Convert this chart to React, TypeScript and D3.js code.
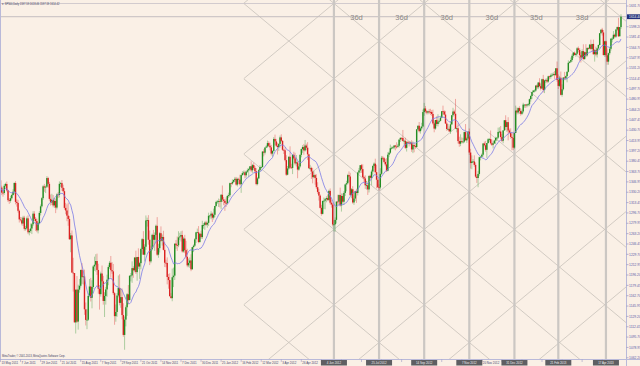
import React, { useEffect, useRef } from "react";
import * as d3 from "d3";

// S&P 500 daily, 13 May 2011 .. 3 May 2013
const closes2011 = [
  1337.8, 1329.5, 1329.0, 1340.7, 1343.6, 1333.3, 1317.4, 1316.3, 1320.5, 1325.7, 1331.1, 1345.2,
  1314.6, 1312.9, 1300.2, 1286.2, 1284.9, 1279.6, 1289.0, 1271.0, 1271.8, 1287.9, 1265.4, 1267.6, 1271.5, 1278.4, 1295.5, 1287.1, 1283.5, 1268.5, 1280.1, 1296.7, 1307.4, 1320.6,
  1339.7, 1337.9, 1339.2, 1353.2, 1343.8, 1319.5, 1313.6, 1317.7, 1308.9, 1316.1, 1305.4, 1326.7, 1325.8, 1343.8, 1345.0, 1337.4, 1331.9, 1304.9, 1300.7, 1292.3,
  1286.9, 1254.1, 1260.3, 1200.1, 1199.4, 1119.5, 1172.5, 1120.8, 1172.6, 1178.8, 1204.5, 1192.8, 1193.9, 1140.7, 1123.5, 1123.8, 1162.4, 1177.6, 1159.3, 1176.8, 1210.1, 1212.9, 1218.9,
  1204.4, 1174.0, 1165.2, 1198.6, 1185.9, 1154.2, 1162.3, 1172.9, 1188.7, 1209.1, 1216.0, 1204.1, 1202.1, 1166.8, 1129.6, 1136.4, 1163.0, 1175.4, 1151.1, 1160.4, 1131.4,
  1099.2, 1124.0, 1144.0, 1165.0, 1155.5, 1194.9, 1195.5, 1207.3, 1203.7, 1224.6, 1200.9, 1225.4, 1209.9, 1215.4, 1238.3, 1254.2, 1229.1, 1242.0, 1284.6, 1285.1, 1253.3,
  1218.3, 1237.9, 1261.2, 1253.2, 1261.1, 1275.9, 1229.1, 1239.7, 1263.9, 1251.8, 1257.8, 1236.9, 1216.1, 1215.7, 1193.0, 1188.0, 1161.8, 1158.7, 1192.6, 1195.2, 1247.0,
  1244.6, 1244.3, 1257.1, 1258.5, 1261.0, 1234.4, 1255.2, 1236.5, 1225.7, 1211.8, 1215.8, 1219.7, 1205.4, 1241.3, 1243.7, 1254.0, 1265.3, 1265.4, 1249.6, 1263.0, 1257.6,
];
const closes2012 = [
  1277.1, 1277.3, 1281.1, 1277.8, 1280.7, 1292.1, 1292.5, 1295.5, 1289.1, 1293.7, 1308.0, 1314.5, 1315.4, 1316.0, 1314.7, 1326.1, 1318.4, 1316.3, 1313.0, 1312.4,
  1324.1, 1325.5, 1344.9, 1344.3, 1347.1, 1350.0, 1352.0, 1342.6, 1351.8, 1350.5, 1343.2, 1358.0, 1361.2, 1362.2, 1357.7, 1363.5, 1365.7, 1367.6, 1372.2, 1365.7,
  1374.1, 1369.6, 1364.3, 1343.4, 1352.6, 1365.9, 1370.9, 1371.1, 1396.0, 1394.3, 1402.6, 1404.2, 1409.8, 1405.5, 1402.9, 1392.8, 1397.1, 1416.5, 1412.5, 1405.5, 1403.3, 1408.5,
  1419.0, 1413.4, 1399.0, 1398.1, 1382.2, 1358.6, 1368.7, 1387.6, 1370.3, 1369.6, 1390.8, 1385.1, 1376.9, 1378.5, 1366.9, 1372.0, 1390.7, 1400.0, 1403.4, 1397.9,
  1405.8, 1402.3, 1391.6, 1369.1, 1369.6, 1363.7, 1354.6, 1358.0, 1353.4, 1338.4, 1330.7, 1324.8, 1304.9, 1295.2, 1316.0, 1316.6, 1318.9, 1320.7, 1317.8, 1332.4, 1313.3, 1310.3,
  1278.0, 1278.2, 1285.5, 1315.1, 1315.0, 1325.7, 1308.9, 1324.2, 1314.9, 1329.1, 1342.8, 1344.8, 1358.0, 1355.7, 1325.5, 1335.0, 1313.7, 1320.0, 1331.9, 1329.0, 1362.2,
  1365.5, 1374.0, 1367.6, 1354.7, 1352.5, 1341.5, 1341.5, 1334.8, 1356.8, 1353.6, 1363.7, 1372.8, 1376.5, 1362.7, 1350.5, 1338.3, 1337.9, 1360.0, 1386.0, 1385.3, 1379.3,
  1375.3, 1365.0, 1391.0, 1394.2, 1401.4, 1402.2, 1402.8, 1405.9, 1404.1, 1403.9, 1405.5, 1415.5, 1418.2, 1418.1, 1413.2, 1413.5, 1402.1, 1411.1, 1410.4, 1409.3, 1410.5, 1399.5, 1406.6,
  1404.9, 1403.4, 1432.1, 1437.9, 1429.1, 1433.6, 1436.6, 1460.0, 1465.8, 1461.2, 1459.3, 1461.1, 1460.3, 1460.2, 1456.9, 1441.6, 1433.3, 1447.2, 1440.7,
  1444.5, 1445.8, 1451.0, 1461.4, 1460.9, 1455.9, 1441.5, 1432.6, 1432.8, 1428.6, 1440.1, 1454.9, 1460.9, 1457.3, 1433.2, 1433.8, 1413.1, 1408.8, 1413.0, 1411.9, 1412.2,
  1427.6, 1414.2, 1417.3, 1428.4, 1394.5, 1377.5, 1379.9, 1380.0, 1374.5, 1355.5, 1353.3, 1359.9, 1386.9, 1387.8, 1391.0, 1409.2, 1406.3, 1398.9, 1409.9, 1416.0, 1416.2,
  1409.5, 1407.1, 1409.3, 1413.9, 1418.1, 1418.6, 1427.8, 1428.5, 1419.5, 1413.6, 1430.4, 1446.8, 1435.8, 1443.7, 1430.2, 1426.7, 1419.8, 1418.1, 1402.4, 1426.2,
];
const closes2013 = [
  1462.4, 1459.4, 1466.5, 1461.9, 1457.2, 1461.0, 1472.1, 1472.1, 1470.7, 1472.3, 1472.6, 1480.9, 1486.0, 1492.6, 1494.8, 1494.8, 1503.0, 1500.2, 1507.8, 1502.0, 1498.1,
  1513.2, 1495.7, 1511.3, 1512.1, 1509.4, 1517.9, 1517.0, 1519.4, 1520.3, 1521.4, 1519.8, 1530.9, 1512.0, 1502.4, 1515.6, 1487.9, 1496.9, 1516.0, 1514.7,
  1518.2, 1525.2, 1539.8, 1541.5, 1544.3, 1551.2, 1556.2, 1552.5, 1554.5, 1563.2, 1560.7, 1552.1, 1548.3, 1558.7, 1545.8, 1556.9, 1551.7, 1563.8, 1562.9, 1569.2,
  1562.2, 1570.3, 1553.7, 1560.0, 1553.3, 1563.1, 1568.6, 1587.7, 1593.4, 1588.9, 1552.4, 1574.6, 1552.0, 1541.6, 1555.3, 1562.5, 1578.8, 1578.8, 1585.2, 1582.2, 1593.6, 1597.6,
  1582.7, 1597.6, 1614.4,
];
const firstOpen = 1349.5;

// shadow lengths above / below the body, in index points
const wickUp2011 = [
  2, 3, 4, 3, 2, 4, 1, 3, 4, 2, 4, 1,
  3, 4, 5, 2, 4, 5, 3, 3, 4, 3, 5, 3, 8, 2, 4, 4, 3, 4, 2, 3, 3, 2,
  2, 4, 2, 3, 2, 3, 7, 10, 8, 5, 4, 2, 4, 4, 2, 5, 5, 5, 8, 10,
  21, 5, 4, 8, 24, 0, 0, 22, 8, 11, 0, 11, 10, 11, 11, 17, 4, 12, 14, 11, 2, 13, 11,
  12, 10, 6, 3, 13, 9, 6, 4, 8, 3, 3, 11, 13, 12, 2, 12, 4, 20, 22, 14, 14,
  19, 5, 3, 2, 15, 1, 4, 11, 3, 0, 11, 0, 14, 2, 2, 2, 13, 4, 8, 4, 8,
  15, 6, 2, 8, 4, 2, 14, 7, 2, 11, 4, 10, 12, 5, 9, 5, 11, 5, 14, 13, 0,
  6, 14, 10, 6, 6, 7, 3, 6, 15, 13, 7, 5, 10, 0, 2, 2, 1, 6, 10, 1, 5,
];
const wickDown2011 = [
  2, 4, 6, 3, 3, 2, 3, 5, 3, 2, 1, 4,
  4, 6, 3, 5, 2, 3, 4, 3, 3, 2, 3, 5, 3, 9, 3, 4, 16, 3, 5, 2, 4, 2,
  3, 7, 9, 2, 6, 3, 5, 4, 3, 4, 9, 3, 5, 4, 5, 5, 2, 3, 6, 9,
  11, 1, 21, 0, 30, 0, 18, 2, 13, 5, 3, 11, 12, 9, 9, 15, 2, 2, 6, 17, 3, 7, 11,
  8, 8, 25, 4, 6, 6, 26, 14, 12, 9, 3, 12, 4, 3, 14, 9, 8, 3, 4, 8, 7,
  3, 24, 11, 14, 7, 0, 9, 12, 12, 3, 3, 14, 4, 20, 10, 9, 0, 11, 5, 10, 8,
  6, 3, 2, 13, 18, 11, 2, 5, 7, 2, 8, 1, 7, 7, 12, 14, 0, 0, 5, 16, 7,
  6, 9, 3, 4, 8, 2, 2, 5, 3, 3, 3, 8, 3, 0, 8, 2, 6, 0, 2, 1, 3,
];
const wickUp2012 = [
  7, 3, 2, 3, 2, 5, 1, 4, 2, 10, 0, 2, 2, 4, 3, 1, 15, 4, 3, 9,
  2, 4, 1, 0, 4, 1, 3, 3, 2, 2, 8, 1, 3, 3, 3, 1, 3, 2, 0, 8,
  2, 4, 3, 5, 2, 2, 3, 1, 1, 4, 0, 2, 4, 3, 5, 4, 1, 3, 7, 4, 5, 1,
  3, 5, 1, 1, 5, 8, 4, 1, 17, 6, 1, 5, 9, 12, 2, 4, 1, 1, 3, 5,
  9, 3, 9, 1, 5, 2, 6, 7, 2, 6, 8, 5, 2, 5, 1, 5, 2, 3, 6, 2, 4, 5,
  3, 7, 4, 0, 11, 1, 12, 4, 4, 3, 1, 4, 2, 6, 6, 2, 5, 5, 1, 4, 1,
  4, 0, 2, 8, 2, 5, 7, 4, 0, 2, 3, 1, 2, 8, 12, 3, 5, 9, 3, 3, 2,
  5, 10, 4, 2, 6, 2, 2, 0, 1, 7, 3, 0, 1, 1, 13, 2, 5, 2, 2, 3, 2, 4, 6,
  4, 3, 0, 0, 6, 3, 6, 4, 9, 4, 2, 1, 4, 5, 3, 7, 3, 0, 6,
  12, 2, 3, 0, 9, 2, 6, 3, 8, 4, 5, 0, 6, 3, 24, 1, 8, 7, 11, 6, 6,
  1, 13, 2, 0, 5, 6, 10, 4, 10, 4, 3, 5, 1, 1, 2, 0, 3, 7, 0, 2, 2,
  14, 6, 3, 1, 2, 1, 7, 7, 9, 5, 0, 0, 8, 0, 8, 3, 7, 5, 10, 0,
];
const wickDown2012 = [
  3, 6, 8, 2, 5, 5, 4, 6, 7, 3, 4, 2, 3, 9, 9, 12, 4, 7, 13, 6,
  2, 3, 3, 6, 2, 2, 3, 2, 3, 7, 2, 14, 1, 3, 5, 4, 2, 11, 2, 3,
  4, 3, 4, 2, 2, 1, 2, 2, 1, 6, 3, 1, 2, 2, 5, 3, 5, 1, 6, 2, 12, 6,
  6, 2, 2, 6, 2, 2, 1, 2, 2, 1, 10, 2, 3, 5, 14, 2, 2, 4, 6, 7,
  2, 4, 9, 1, 3, 12, 10, 2, 11, 3, 3, 8, 1, 3, 1, 13, 14, 5, 2, 2, 3, 5,
  3, 11, 12, 6, 6, 6, 2, 10, 3, 5, 5, 11, 2, 9, 1, 5, 2, 4, 4, 16, 4,
  3, 4, 6, 2, 6, 6, 7, 9, 5, 3, 12, 5, 3, 2, 14, 1, 5, 3, 2, 3, 2,
  3, 2, 1, 4, 2, 2, 1, 3, 6, 3, 1, 3, 4, 4, 1, 6, 2, 6, 1, 5, 2, 4, 6,
  10, 3, 1, 1, 2, 4, 3, 0, 6, 3, 3, 3, 3, 5, 3, 2, 6, 2, 3,
  4, 3, 1, 1, 5, 1, 1, 3, 2, 0, 4, 1, 3, 3, 0, 6, 4, 5, 4, 2, 3,
  2, 0, 4, 1, 4, 9, 10, 1, 3, 2, 8, 15, 3, 5, 1, 3, 2, 3, 13, 1, 4,
  2, 2, 6, 1, 6, 5, 2, 2, 4, 2, 4, 1, 5, 8, 16, 1, 3, 20, 4, 2,
];
const wickUp2013 = [
  8, 5, 1, 3, 4, 3, 3, 0, 1, 1, 2, 1, 2, 0, 1, 2, 0, 2, 1, 7, 4,
  1, 7, 1, 2, 3, 1, 1, 3, 3, 3, 5, 0, 11, 9, 3, 10, 8, 0, 9,
  1, 1, 4, 1, 4, 3, 1, 2, 1, 2, 3, 3, 5, 3, 11, 1, 13, 1, 1, 1,
  8, 0, 7, 2, 6, 1, 1, 0, 0, 3, 4, 1, 1, 11, 1, 3, 1, 3, 6, 2, 1, 1,
  15, 0, 4,
];
const wickDown2013 = [
  0, 3, 3, 5, 3, 2, 3, 5, 4, 3, 3, 3, 4, 5, 2, 3, 2, 3, 3, 2, 3,
  0, 4, 5, 4, 3, 2, 4, 3, 2, 2, 6, 1, 3, 5, 2, 1, 3, 2, 3,
  3, 10, 1, 1, 2, 3, 4, 1, 3, 2, 4, 9, 8, 1, 1, 1, 3, 2, 2, 1,
  2, 3, 1, 12, 3, 5, 2, 1, 1, 5, 1, 3, 3, 5, 5, 3, 3, 6, 1, 2, 2, 2,
  1, 0, 3,
];

const priceTicks = [
  1631.70, 1614.95, 1598.20, 1581.45, 1564.70, 1547.95, 1531.20, 1514.45, 1497.70, 1480.95,
  1464.20, 1447.45, 1430.70, 1413.95, 1397.20, 1380.45, 1363.70, 1346.95, 1330.20, 1313.45,
  1296.70, 1279.95, 1263.20, 1246.45, 1229.70, 1212.95, 1196.20, 1179.45, 1162.70, 1145.95,
  1129.20, 1112.45, 1095.70, 1078.95, 1062.20,
];
const dateTickBars = [0, 16, 32, 48, 64, 80, 96, 112, 128, 144, 160, 176, 192, 208, 224, 240, 256, 272, 288, 304, 320, 336, 352, 368, 384, 400, 416, 432, 448, 464, 480];
const dateTickLabels = [
  "13 May 2011", "7 Jun 2011", "29 Jun 2011", "21 Jul 2011", "15 Aug 2011", "7 Sep 2011", "29 Sep 2011", "21 Oct 2011",
  "14 Nov 2011", "7 Dec 2011", "30 Dec 2011", "25 Jan 2012", "16 Feb 2012", "12 Mar 2012", "3 Apr 2012", "26 Apr 2012",
  "18 May 2012", "12 Jun 2012", "5 Jul 2012", "27 Jul 2012", "20 Aug 2012", "12 Sep 2012", "4 Oct 2012", "26 Oct 2012",
  "20 Nov 2012", "14 Dec 2012", "9 Jan 2013", "1 Feb 2013", "26 Feb 2013", "20 Mar 2013", "12 Apr 2013",
];

// cycle lines
const cycleBars = [266, 302, 338, 374, 410, 445, 483];
const cycleDates = ["4 Jun 2012", "25 Jul 2012", "14 Sep 2012", "7 Nov 2012", "31 Dec 2012", "21 Feb 2013", "17 Apr 2013"];
const cycleLabels = ["36d", "36d", "36d", "36d", "35d", "38d"];

// gann grid: anchor bar/price, half cell in bars and points, first bar drawn
const gannAnchor = [266, 1270];
const gannCell = [36, 61];
const gannStartBar = 194;

const maPeriod = 14;
const title = "SP500,Daily  1597.59 1618.46 1597.59 1614.42";
const copyright = "MetaTrader, \u00a9 2001-2013, MetaQuotes Software Corp.";

export default function App() {
  const ref = useRef<SVGSVGElement>(null);

  useEffect(() => {
    const W = 640, H = 366;
    const plotR = 626.5, plotB = 359.5;
    const closes = [...closes2011, ...closes2012, ...closes2013];
    const ups = [...wickUp2011, ...wickUp2012, ...wickUp2013];
    const downs = [...wickDown2011, ...wickDown2012, ...wickDown2013];
    const n = closes.length;
    const bars = closes.map((c, i) => {
      const o = i === 0 ? firstOpen : closes[i - 1];
      return {
        i, o, c,
        h: Math.max(o, c) + (ups[i] ?? 2),
        l: Math.min(o, c) - (downs[i] ?? 2),
      };
    });

    const svg = d3.select(ref.current);
    svg.selectAll("*").remove();

    const x = d3.scaleLinear().domain([0, 495]).range([0.5, 0.5 + 495 * 1.2535]);
    const y = d3.scaleLinear().domain([1066.7, 1636.6]).range([355, 3]);
    const font = "Liberation Sans, Arial, sans-serif";

    svg.append("rect").attr("width", W).attr("height", H).attr("fill", "#FAF0E6");

    const defs = svg.append("defs");
    defs.append("clipPath").attr("id", "gann")
      .append("rect").attr("x", x(gannStartBar)).attr("y", 0)
      .attr("width", plotR - x(gannStartBar)).attr("height", plotB);
    defs.append("clipPath").attr("id", "plot")
      .append("rect").attr("x", 0).attr("y", 0).attr("width", plotR).attr("height", plotB);

    // gann grid
    const slope = gannCell[1] / gannCell[0];
    const g = svg.append("g").attr("clip-path", "url(#gann)")
      .attr("stroke", "#C8C1BA").attr("stroke-width", 0.8).attr("fill", "none");
    const b0 = gannStartBar, b1 = n + 20;
    d3.range(-14, 15).forEach((k) => {
      [1, -1].forEach((dir) => {
        const p = (b: number) => gannAnchor[1] + dir * slope * (b - gannAnchor[0]) + 2 * gannCell[1] * k;
        g.append("line")
          .attr("x1", x(b0)).attr("y1", y(p(b0)))
          .attr("x2", x(b1)).attr("y2", y(p(b1)));
      });
    });

    // top line and bid line
    const last = closes[n - 1];
    svg.append("line").attr("x1", 0).attr("x2", plotR).attr("y1", 3.5).attr("y2", 3.5)
      .attr("stroke", "#C8C2C8").attr("stroke-width", 0.8);
    svg.append("line").attr("x1", 0).attr("x2", plotR).attr("y1", y(last)).attr("y2", y(last))
      .attr("stroke", "#BDB8BC").attr("stroke-width", 0.9);

    // cycle lines
    svg.append("g").selectAll("line").data(cycleBars).join("line")
      .attr("x1", (d) => x(d)).attr("x2", (d) => x(d))
      .attr("y1", 0).attr("y2", plotB)
      .attr("stroke", "#CBC7C3").attr("stroke-width", 2.2);
    svg.append("g").selectAll("text").data(cycleLabels).join("text")
      .attr("x", (_, i) => (x(cycleBars[i]) + x(cycleBars[i + 1])) / 2)
      .attr("y", 19.5)
      .attr("text-anchor", "middle")
      .attr("font-family", font)
      .attr("font-size", 7.5).attr("fill", "#8C8886")
      .text((d) => d);

    // candles
    const up = "#238C23", down = "#DA2020";
    const cg = svg.append("g").attr("clip-path", "url(#plot)");
    cg.selectAll("line.wick").data(bars).join("line").attr("class", "wick")
      .attr("x1", (d) => x(d.i)).attr("x2", (d) => x(d.i))
      .attr("y1", (d) => y(d.h)).attr("y2", (d) => y(d.l))
      .attr("stroke", (d) => (d.c >= d.o ? up : down))
      .attr("stroke-opacity", 0.45).attr("stroke-width", 0.8);
    cg.selectAll("rect.body").data(bars).join("rect").attr("class", "body")
      .attr("x", (d) => x(d.i) - 0.7).attr("width", 1.4)
      .attr("y", (d) => y(Math.max(d.o, d.c)))
      .attr("height", (d) => Math.max(0.8, Math.abs(y(d.o) - y(d.c))))
      .attr("fill", (d) => (d.c >= d.o ? up : down));

    // moving average
    const ma = closes.map((_, i) => d3.mean(closes.slice(Math.max(0, i - maPeriod + 1), i + 1)) as number);
    cg.append("path").datum(ma)
      .attr("d", d3.line<number>().x((_, i) => x(i)).y((d) => y(d)))
      .attr("fill", "none").attr("stroke", "#7B7BE6").attr("stroke-width", 0.8);

    // frame
    const frame = "#B9B9D9";
    svg.append("line").attr("x1", 0.5).attr("x2", 0.5).attr("y1", 0).attr("y2", plotB).attr("stroke", frame);
    svg.append("line").attr("x1", plotR).attr("x2", plotR).attr("y1", 0).attr("y2", H).attr("stroke", frame);
    svg.append("line").attr("x1", 0).attr("x2", W).attr("y1", plotB).attr("y2", plotB).attr("stroke", frame);

    // price axis
    const pa = svg.append("g").attr("font-family", font).attr("font-size", 3.3).attr("fill", "#5A5AA8");
    priceTicks.forEach((p) => {
      pa.append("line").attr("x1", plotR).attr("x2", plotR + 2).attr("y1", y(p)).attr("y2", y(p))
        .attr("stroke", "#8A8AC0").attr("stroke-width", 0.6);
      if (Math.abs(y(p) - y(last)) > 4) {
        pa.append("text").attr("x", plotR + 2.6).attr("y", y(p) + 1.2).text(p.toFixed(2));
      }
    });
    pa.append("rect").attr("x", plotR + 0.5).attr("y", y(last) - 2.4).attr("width", 14).attr("height", 4.8)
      .attr("fill", "#24307A");
    pa.append("text").attr("x", plotR + 2.6).attr("y", y(last) + 1.2).attr("fill", "#FFFFFF").text(last.toFixed(2));

    // time axis: regular labels, except where a cycle line's date box covers them
    const boxW = 26;
    const ta = svg.append("g").attr("font-family", font).attr("font-size", 2.9).attr("fill", "#44446E");
    dateTickBars.forEach((b, i) => {
      ta.append("line").attr("x1", x(b)).attr("x2", x(b)).attr("y1", plotB).attr("y2", plotB + 2.5)
        .attr("stroke", "#8A8AC0").attr("stroke-width", 0.5);
      const lx = x(b) + 1;
      const covered = cycleBars.some((cb) => lx + 16 > x(cb) - boxW / 2 && lx < x(cb) + boxW / 2);
      if (!covered) ta.append("text").attr("x", lx).attr("y", 363.6).text(dateTickLabels[i]);
    });
    cycleBars.forEach((b, i) => {
      ta.append("rect").attr("x", x(b) - boxW / 2).attr("y", plotB + 0.5).attr("width", boxW).attr("height", 5.5)
        .attr("fill", "#5E5E62");
      ta.append("text").attr("x", x(b)).attr("y", 363.8).attr("text-anchor", "middle")
        .attr("fill", "#F0F0F0").text(cycleDates[i]);
    });

    // texts
    svg.append("text").attr("x", 2).attr("y", 5).attr("font-family", font).attr("font-size", 2.6)
      .attr("fill", "#3A3A5E").text("\u25BE " + title);
    svg.append("text").attr("x", 2).attr("y", 357.2).attr("font-family", font).attr("font-size", 2.6)
      .attr("fill", "#3A3A5E").text(copyright);
  }, []);

  return (
    <svg
      ref={ref}
      width={640}
      height={366}
      style={{ position: "absolute", left: 0, top: 0, display: "block" }}
    />
  );
}
